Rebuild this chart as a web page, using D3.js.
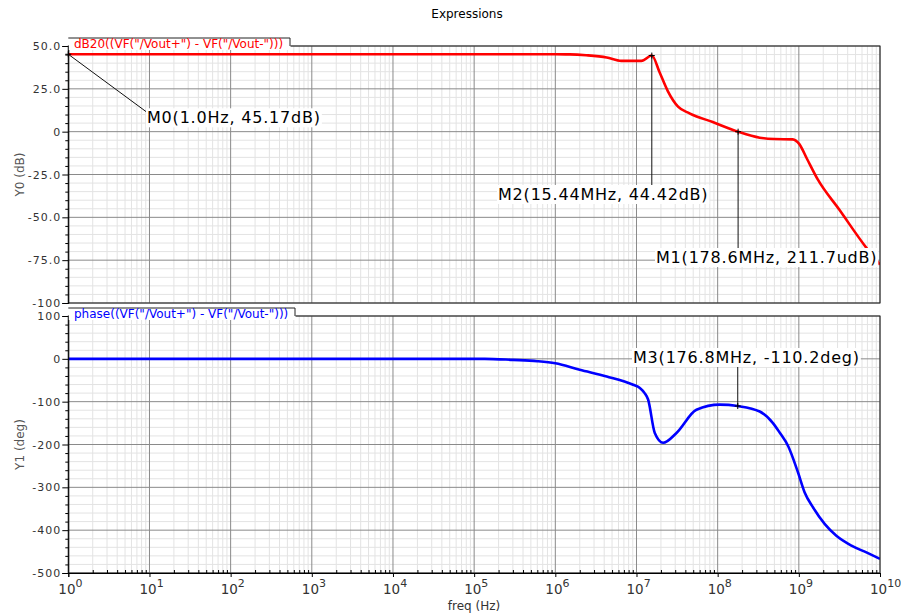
<!DOCTYPE html>
<html>
<head>
<meta charset="utf-8">
<script src="https://cdn.jsdelivr.net/npm/d3@7"></script>
<style>
body { margin: 0; background: #fff; }
svg { display: block; font-family: "DejaVu Sans", sans-serif; }
</style>
</head>
<body>
<svg width="901" height="615"></svg>
<script>
/*
 * Data: magnitude (dB) and phase (deg) versus frequency (Hz)
 */
var magFreq = [1, 1e6, 1.5e6, 2.4e6, 4.3e6, 6.5e6, 1.15e7, 1.544e7, 1.93e7, 2.43e7, 3.25e7, 4.5e7, 8.7e7,
               1.786e8, 3.3e8, 5e8, 8.4e8, 1.02e9, 1.25e9, 1.71e9, 3.16e9, 6.8e9, 1e10];
var magDb = [45.17, 45.17, 45.1, 44.6, 43.3, 41.3, 41.3, 44.42, 34.5, 23.7, 14.6, 10.7, 5.6,
             0, -3.5, -4.3, -4.5, -7.4, -15.5, -27.9, -45.6, -67.8, -77.6];

var phFreq = [1, 1.35e5, 3e5, 6e5, 1e6, 2e6, 4.3e6, 9.1e6, 1.1e7, 1.26e7, 1.39e7, 1.68e7, 2.13e7, 3.11e7,
              5.48e7, 1.06e8, 1.768e8, 3.3e8, 4.8e8, 5.8e8, 7.4e8, 9.8e8, 1.18e9, 1.5e9, 2.09e9,
              2.9e9, 4.45e9, 6.8e9, 1e10];
var phDeg = [0, 0, -2.5, -5.5, -10.5, -25.6, -41, -60.5, -68, -80, -95, -173, -196, -173,
             -119, -107, -110.2, -123, -150, -172, -204, -266, -312, -347, -386,
             -413, -436, -452, -467];

var magTicks = [50, 25, 0, -25, -50, -75, -100];
var magTickLabels = ["50.0", "25.0", "0", "-25.0", "-50.0", "-75.0", "-100"];
var phTicks = [100, 0, -100, -200, -300, -400, -500];
var phTickLabels = ["100", "0", "-100", "-200", "-300", "-400", "-500"];
var decades = d3.range(0, 11);

/*
 * Markers placed on the traces
 */
var markerPanel = ["mag", "mag", "mag", "ph"];
var markerFreq = [1, 178.6e6, 15.44e6, 176.8e6];
var markerVal = [45.17, 211.7e-6, 44.42, -110.2];
var markerText = ["M0(1.0Hz, 45.17dB)", "M1(178.6MHz, 211.7udB)", "M2(15.44MHz, 44.42dB)", "M3(176.8MHz, -110.2deg)"];

var svg = d3.select("svg"),
    plotLeft = 68.3,
    plotRight = 880;

var x = d3.scaleLog().domain([1, 1e10]).range([plotLeft, plotRight]);
var yMag = d3.scaleLinear().domain([-100, 50]).range([303, 46]);
var yPh = d3.scaleLinear().domain([-500, 100]).range([573, 316]);

var minorFreqs = [];
decades.slice(0, 10).forEach(function(k) {
  d3.range(2, 10).forEach(function(m) { minorFreqs.push(m * Math.pow(10, k)); });
});
var majorFreqs = decades.map(function(k) { return Math.pow(10, k); });

svg.append("text")
    .attr("x", 467).attr("y", 18)
    .attr("text-anchor", "middle")
    .style("font-size", "12px")
    .text("Expressions");

/*
 * One strip: grid, trace, axis and legend tab
 */
function drawPanel(id, y, minorStep, ticks, tickLabels, yTitle, legendText, legendRight, color, fx, fy) {
  var g = svg.append("g").attr("class", "panel-" + id);
  var top = y.range()[1], bottom = y.range()[0];
  var dom = y.domain();

  g.append("clipPath").attr("id", "clip-" + id)
    .append("rect")
      .attr("x", plotLeft).attr("y", top)
      .attr("width", plotRight - plotLeft).attr("height", bottom - top);

  var minorY = d3.range(dom[0], dom[1] + 1e-9, minorStep).filter(function(v) { return ticks.indexOf(v) < 0; });

  // minor grid
  g.selectAll("line.vminor").data(minorFreqs).enter().append("line")
      .attr("x1", function(d) { return x(d); }).attr("x2", function(d) { return x(d); })
      .attr("y1", top).attr("y2", bottom)
      .style("stroke", "#e3e3e3");
  g.selectAll("line.hminor").data(minorY).enter().append("line")
      .attr("x1", plotLeft).attr("x2", plotRight)
      .attr("y1", function(d) { return y(d); }).attr("y2", function(d) { return y(d); })
      .style("stroke", "#e3e3e3");
  // major grid
  g.selectAll("line.vmajor").data(majorFreqs).enter().append("line")
      .attr("x1", function(d) { return x(d); }).attr("x2", function(d) { return x(d); })
      .attr("y1", top).attr("y2", bottom)
      .style("stroke", "#8a8a8a");
  g.selectAll("line.hmajor").data(ticks).enter().append("line")
      .attr("x1", plotLeft).attr("x2", plotRight)
      .attr("y1", function(d) { return y(d); }).attr("y2", function(d) { return y(d); })
      .style("stroke", "#8a8a8a");

  // trace
  var line = d3.line()
      .x(function(d, i) { return x(fx[i]); })
      .y(function(d) { return y(d); })
      .curve(d3.curveMonotoneX);
  g.append("path")
      .datum(fy)
      .attr("clip-path", "url(#clip-" + id + ")")
      .attr("d", line)
      .style("fill", "none")
      .style("stroke", color)
      .style("stroke-width", 2.6)
      .style("stroke-linejoin", "round");

  // frame
  g.append("rect")
      .attr("x", plotLeft).attr("y", top)
      .attr("width", plotRight - plotLeft).attr("height", bottom - top)
      .style("fill", "none").style("stroke", "#222");

  // y axis
  var ax = g.append("g").attr("transform", "translate(" + plotLeft + ",0)")
      .call(d3.axisLeft(y).tickValues(ticks).tickSize(6).tickPadding(1)
        .tickFormat(function(d, i) { return tickLabels[i]; }));
  ax.select(".domain").style("stroke", "#000");
  ax.selectAll("text")
      .style("font-size", "11px").style("letter-spacing", "1px")
      .style("font-family", "DejaVu Sans, sans-serif").style("fill", "#333");
  var axm = g.append("g").attr("transform", "translate(" + plotLeft + ",0)")
      .call(d3.axisLeft(y).tickValues(minorY).tickSize(3).tickFormat(""));
  axm.select(".domain").remove();

  g.append("text")
      .attr("transform", "translate(24," + ((top + bottom) / 2) + ") rotate(-90)")
      .attr("text-anchor", "middle")
      .style("font-size", "12px").style("fill", "#555")
      .text(yTitle);

  // legend tab
  g.append("rect")
      .attr("x", plotLeft + 0.5).attr("y", top - 8)
      .attr("width", legendRight - plotLeft).attr("height", 12)
      .style("fill", "#fff");
  g.append("path")
      .attr("d", "M" + plotLeft + "," + (top - 8) + "H" + legendRight + "V" + top)
      .style("fill", "none").style("stroke", "#222");
  g.append("text")
      .attr("x", 74).attr("y", top + 1.5)
      .style("font-size", "12px").style("fill", color)
      .text(legendText);
}

drawPanel("mag", yMag, 5, magTicks, magTickLabels, "Y0 (dB)",
          'dB20((VF("/Vout+") - VF("/Vout-")))', 290, "#ff0000", magFreq, magDb);
drawPanel("ph", yPh, 20, phTicks, phTickLabels, "Y1 (deg)",
          'phase((VF("/Vout+") - VF("/Vout-")))', 295, "#0000ff", phFreq, phDeg);

/*
 * Bottom frequency axis with 10^n labels
 */
var xb = svg.append("g").attr("transform", "translate(0," + yPh.range()[0] + ")");
xb.call(d3.axisBottom(x).tickValues(majorFreqs).tickSize(4).tickFormat(""));
xb.select(".domain").style("stroke", "#000");
var xbm = svg.append("g").attr("transform", "translate(0," + yPh.range()[0] + ")")
    .call(d3.axisBottom(x).tickValues(minorFreqs).tickSizeInner(-3).tickSizeOuter(0).tickFormat(""));
xbm.select(".domain").remove();

var xl = svg.append("g").selectAll("text").data(decades).enter().append("text")
    .attr("x", function(d) { return x(Math.pow(10, d)) - 10; })
    .attr("y", 594)
    .style("font-size", "13.5px").style("fill", "#333");
xl.append("tspan").text("10");
xl.append("tspan").attr("dy", -7).style("font-size", "11px").text(function(d) { return d; });

svg.append("text")
    .attr("x", 474).attr("y", 609.5)
    .attr("text-anchor", "middle")
    .style("font-size", "12px").style("fill", "#333")
    .text("freq (Hz)");

/*
 * Marker crosshairs, leader lines and labels (label spots are layout only)
 */
var labelLeft = [147, 656, 498, 633];
var labelBase = [123.3, 263, 200, 363];
var mg = svg.append("g");
markerText.forEach(function(t, i) {
  var y = markerPanel[i] == "mag" ? yMag : yPh;
  var px = x(markerFreq[i]), py = y(markerVal[i]);
  var lab = mg.append("g");
  var txt = lab.append("text")
      .attr("x", labelLeft[i]).attr("y", labelBase[i])
      .style("font-size", "16px").style("letter-spacing", "0.8px")
      .text(t);
  var bb = txt.node().getBBox();
  lab.insert("rect", "text")
      .attr("x", bb.x - 1).attr("y", bb.y)
      .attr("width", bb.width + 2).attr("height", bb.height)
      .style("fill", "#fff");
  var lx, ly;
  if (i == 0) { lx = bb.x; ly = bb.y + 4; }
  else if (py < bb.y) { lx = px; ly = bb.y; }
  else { lx = px; ly = bb.y + bb.height; }
  mg.insert("line", "g")
      .attr("x1", px).attr("y1", py).attr("x2", lx).attr("y2", ly)
      .style("stroke", "#111");
  mg.append("path")
      .attr("d", "M" + (px - 3) + "," + py + "H" + (px + 3) + "M" + px + "," + (py - 3) + "V" + (py + 3))
      .style("stroke", "#000");
});
</script>
</body>
</html>
